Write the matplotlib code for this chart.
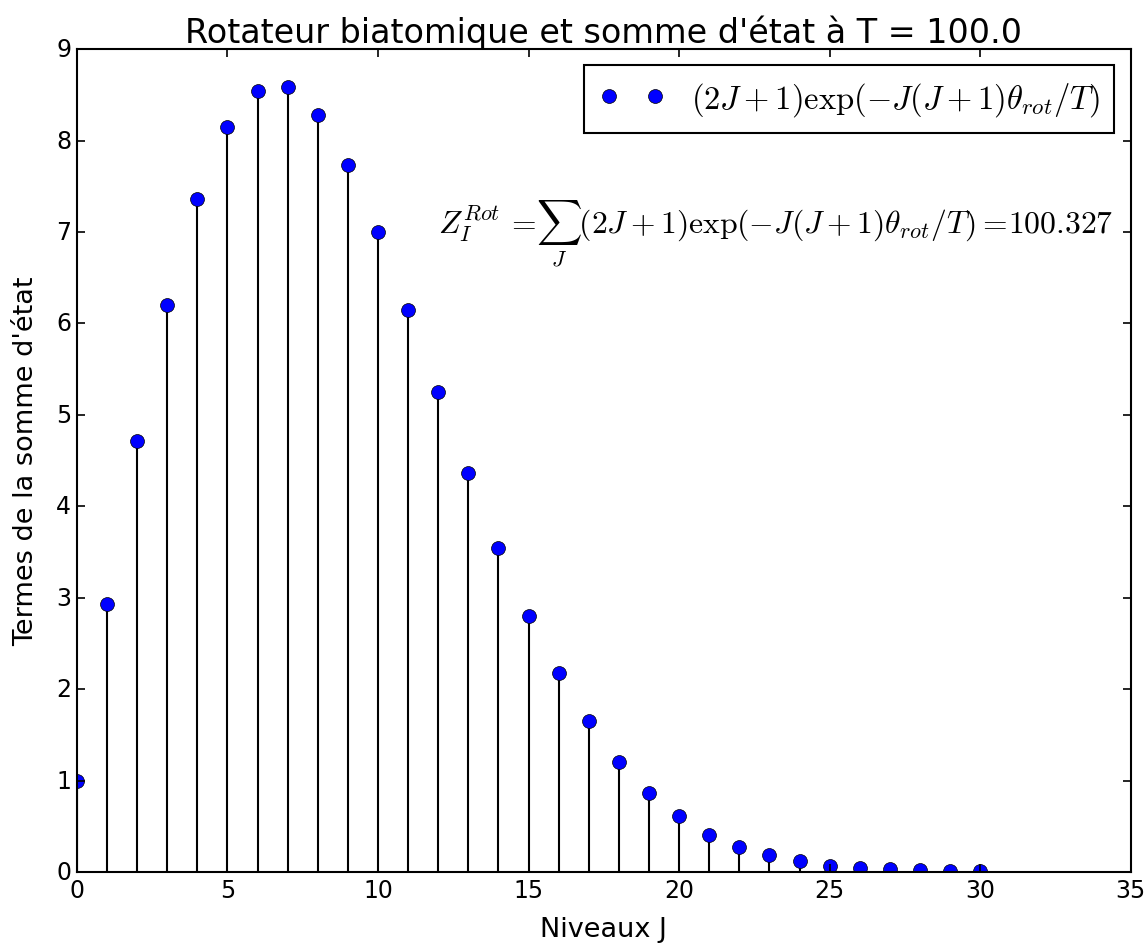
import numpy as np
import matplotlib
matplotlib.use("Agg")
import matplotlib.pyplot as plt

plt.style.use("classic")

# niveaux J et termes de la somme d'etat
J = np.arange(0, 31)
termes = [1.00, 2.93, 4.72, 6.20, 7.36, 8.15, 8.54, 8.58, 8.28, 7.73,
          7.00, 6.15, 5.25, 4.36, 3.55, 2.80, 2.18, 1.65, 1.21, 0.87,
          0.61, 0.41, 0.28, 0.19, 0.12, 0.07, 0.05, 0.03, 0.02, 0.01, 0.01]
T = 100.0
Z = 100.327

fig = plt.figure(figsize=(11.48, 9.45), dpi=100, facecolor="white")
ax = fig.add_axes([0.067, 0.076, 0.918, 0.871])

ax.vlines(J, 0, termes, colors="k", linewidth=1.5)
ax.plot(J, termes, "bo", markersize=10,
        label=r"$(2J+1)\exp(-J(J+1)\theta_{rot}/T)$")

ax.text(12, 7, r"$Z_I^{Rot}\,=\!\sum_J(2J+1)\exp(-J(J+1)\theta_{rot}/T)=\!%.3f$" % Z,
        fontsize=22.8)

ax.set_xlim(0, 35)
ax.set_ylim(0, 9)
ax.tick_params(labelsize=17, width=1.2, length=6)
for s in ax.spines.values():
    s.set_linewidth(1.5)
ax.set_xlabel("Niveaux J", fontsize=19.5, labelpad=10)
ax.set_ylabel("Termes de la somme d'état", fontsize=19.5, labelpad=12)
ax.set_title("Rotateur biatomique et somme d'état à T = %.1f" % T, fontsize=24)
leg = ax.legend(loc="upper right", numpoints=2, fontsize=23.5, borderpad=0.45)
leg.get_frame().set_linewidth(1.5)

fig.savefig("out.png", dpi=100, facecolor="white")
